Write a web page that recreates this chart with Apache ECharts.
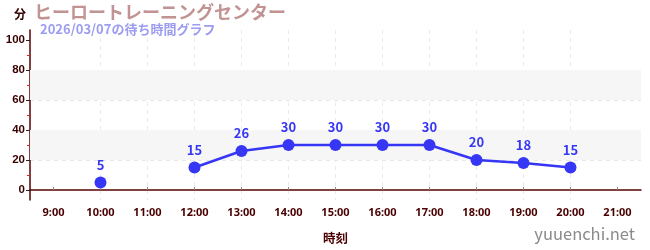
<!DOCTYPE html>
<html><head><meta charset="utf-8">
<script src="https://cdn.jsdelivr.net/npm/echarts@6/dist/echarts.min.js"></script>
<style>html,body{margin:0;padding:0;background:#fff}#c{width:650px;height:250px}</style>
</head><body><div id="c"></div>
<script>
const hours = [9,10,11,12,13,14,15,16,17,18,19,20,21];
const waits = [null,5,null,15,26,30,30,30,30,20,18,15,null];
const yMajor = [0,20,40,60,80,100];
const yMinor = [10,30,50,70,90];
const bands = [[20,40],[60,80]];
const titleText = 'ヒーロートレーニングセンター';
const subText = '2026/03/07の待ち時間グラフ';
const unitText = '分';
const xName = '時刻';
const mark = 'yuuenchi.net';

const font = '"Noto Sans CJK JP","Noto Sans",sans-serif';
const chart = echarts.init(document.getElementById('c'));
chart.setOption({
  animation:false,
  textStyle:{fontFamily:font},
  title:[
    {text:unitText,left:14,top:8,padding:0,textStyle:{fontSize:12,fontWeight:'bold',color:'#330000',fontFamily:font}},
    {text:titleText,left:34,top:3,padding:0,textStyle:{fontSize:18,fontWeight:'bold',color:'#c29393',fontFamily:font}},
    {text:subText,left:40,top:23,padding:0,textStyle:{fontSize:13,fontWeight:'bold',color:'#9c9cf0',fontFamily:font}},
    {text:mark,right:15,top:225,padding:0,textStyle:{fontSize:16.5,fontWeight:'normal',color:'#8a8a8a',fontFamily:font}}
  ],
  grid:{left:30,right:9,top:30,bottom:50,containLabel:false},
  xAxis:{
    type:'value',min:8.5,max:21.5,
    name:xName,nameLocation:'middle',nameGap:32,
    nameTextStyle:{fontSize:12.5,fontWeight:'bold',color:'#4a0000'},
    axisLine:{show:true,lineStyle:{color:'#5a0000',width:1.5}},
    axisTick:{show:true,inside:true,length:3,customValues:hours,lineStyle:{color:'#888'}},
    axisLabel:{customValues:hours,formatter:v=>v+':00',fontSize:11,fontWeight:'bold',color:'#4a0000',margin:7,fontFamily:'"Liberation Sans Narrow","Noto Sans",sans-serif'},
    splitLine:{show:true,showMinLine:false,showMaxLine:false,lineStyle:{type:[4,4],color:'#ebebeb'}}
  },
  yAxis:[{
    type:'value',min:-20/3,max:320/3,
    axisLine:{show:true,lineStyle:{color:'#5a0000',width:1.5}},
    axisTick:{show:true,length:4,customValues:yMajor,lineStyle:{color:'#222'}},
    axisLabel:{customValues:yMajor,fontSize:11.5,fontWeight:'bold',color:'#3a0000',margin:5,fontFamily:'"Liberation Sans","Noto Sans",sans-serif'},
    splitLine:{show:true,showMinLine:false,showMaxLine:false,lineStyle:{type:[4,4],color:'#e8e8e8'}}
  },{
    type:'value',min:-20/3,max:320/3,position:'left',
    axisLine:{show:false},
    axisTick:{show:true,length:3,customValues:yMinor,lineStyle:{color:'#dd2222'}},
    axisLabel:{show:false},
    splitLine:{show:false}
  }],
  series:[{
    type:'line',
    data:hours.map((h,i)=>[h,waits[i]]),
    connectNulls:false,
    symbol:'circle',symbolSize:12,
    itemStyle:{color:'#3636f5'},
    lineStyle:{color:'#3636f5',width:2.5},
    label:{show:true,position:'top',distance:5,fontSize:13,fontWeight:'bold',color:'#3636f5'},
    markArea:{silent:true,itemStyle:{color:'#f6f6f6'},data:bands.map(b=>[{yAxis:b[0]},{yAxis:b[1]}])},
    z:3
  }]
});
</script></body></html>
